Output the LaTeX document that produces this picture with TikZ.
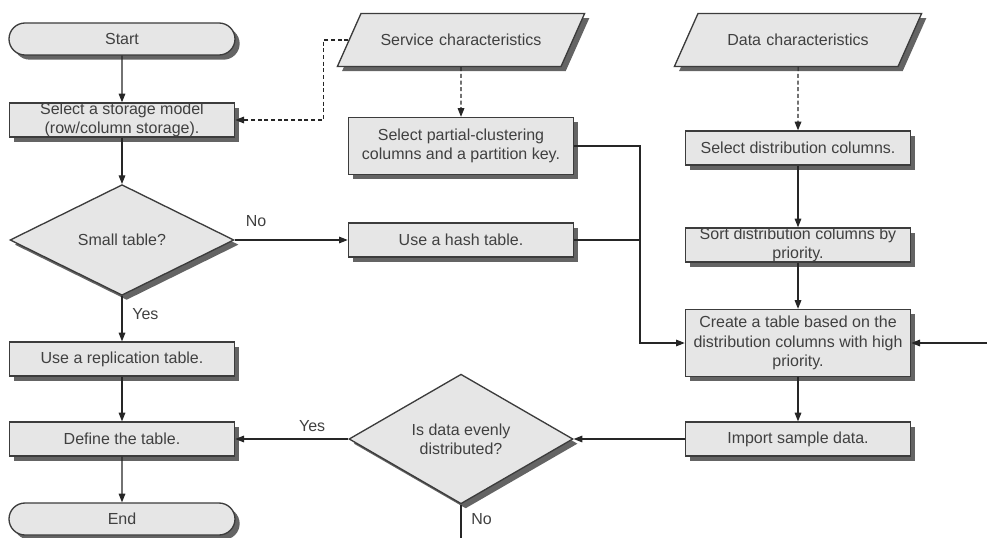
\documentclass[tikz,border=0pt]{standalone}
\usepackage{fontspec}
\setmainfont{Liberation Sans}
\usetikzlibrary{shapes.geometric,shapes.misc,shadows,arrows.meta}

\definecolor{boxfill}{RGB}{230,230,230}
\definecolor{boxline}{RGB}{60,60,60}
\definecolor{shade}{RGB}{100,100,100}
\definecolor{txt}{RGB}{64,64,64}

\tikzset{
  flowbase/.style={draw=boxline, line width=1pt, fill=boxfill, text=txt, font=\fontsize{12}{14.4}\selectfont, align=center, inner sep=0pt, drop shadow={shadow xshift=3.5pt, shadow yshift=-3.5pt, fill=shade, opacity=1}},
  terminal/.style={flowbase, rounded rectangle, minimum width=169.5pt, minimum height=24pt},
  process/.style={flowbase, rectangle, minimum width=169pt, minimum height=25.5pt},
  decision/.style={flowbase, diamond, minimum width=168pt, minimum height=83pt},
  datain/.style={flowbase, trapezium, trapezium left angle=66, trapezium right angle=114, text width=150pt, inner xsep=0pt, inner ysep=15.5pt},
  wire/.style={draw=black!85, line width=0.8pt},
  flow/.style={wire, -{Triangle[length=6.5pt,width=5pt]}},
  lbl/.style={text=txt, font=\fontsize{12}{14.4}\selectfont},
}

\begin{document}
\begin{tikzpicture}[x=0.75pt,y=0.75pt,yscale=-1,xscale=1]
\useasboundingbox (0,0) rectangle (987,538);

% left column
\node[terminal] (start) at (122,39) {Start};
\node[process] (storage) at (122,120) {Select a storage model\\(row/column storage).};
\node[decision] (small) at (122,240) {Small table?};
\node[process] (replica) at (122,359) {Use a replication table.};
\node[process] (define) at (122,439) {Define the table.};
\node[terminal] (stop) at (122,519) {End};

% middle column
\node[datain] (service) at (461,40) {Service characteristics};
\node[process, minimum height=42.75pt] (partial) at (461,146) {Select partial-clustering\\columns and a partition key.};
\node[process] (hash) at (461,240) {Use a hash table.};
\node[decision] (evenly) at (461,439) {Is data evenly\\distributed?};

% right column
\node[datain] (datach) at (798,40) {Data characteristics};
\node[process] (distcols) at (798,148) {Select distribution columns.};
\node[process] (sortcols) at (798,245) {Sort distribution columns by\\priority.};
\node[process, minimum height=50.25pt] (create) at (798,343) {Create a table based on the\\distribution columns with high\\priority.};
\node[process] (import) at (798,439) {Import sample data.};

\coordinate (merge) at (640,240);
\coordinate (feed) at (987,343);
\coordinate (evenout) at (461,538);

% connectors
\draw[flow] (start) -- (storage);
\draw[flow] (storage) -- (small);
\draw[flow] (small) -- node[lbl, right=4pt, pos=0.4] {Yes} (replica);
\draw[flow] (small) -- node[lbl, above=6pt, pos=0.19] {No} (hash);
\draw[flow] (replica) -- (define);
\draw[flow] (define) -- (stop);
\draw[flow, dash pattern=on 3pt off 2pt] (service.west) -- ++(-25,0) |- (storage.east);
\draw[flow, dash pattern=on 3pt off 2pt] (service) -- (partial);
\draw[flow, dash pattern=on 3pt off 2pt] (datach) -- (distcols);
\draw[wire] (partial.east) -| (merge);
\draw[flow] (hash.east) -- (merge) |- (create.west);
\draw[flow] (distcols) -- (sortcols);
\draw[flow] (sortcols) -- (create);
\draw[flow] (feed) -- (create.east);
\draw[flow] (create) -- (import);
\draw[flow] (import) -- (evenly);
\draw[flow] (evenly.west) -- node[lbl, above=2pt, pos=0.32] {Yes} (define.east);
\draw[wire] (evenly) -- node[lbl, right=4pt, pos=0.42] {No} (evenout);

\end{tikzpicture}
\end{document}
